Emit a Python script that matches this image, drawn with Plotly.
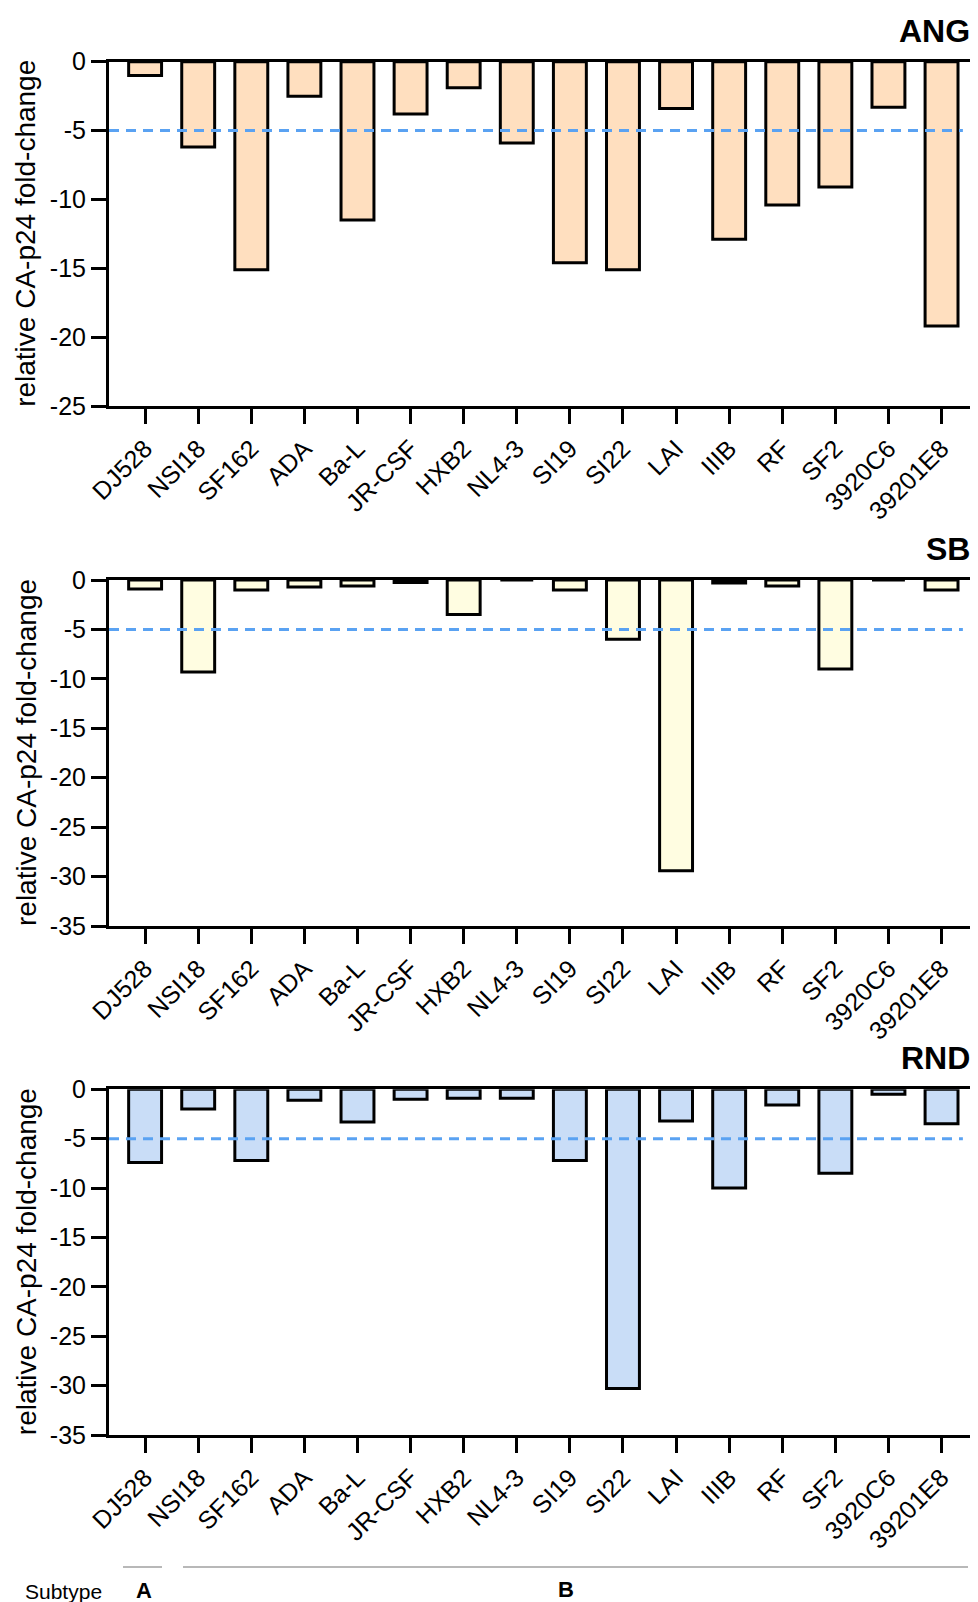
import plotly.graph_objects as go

categories = ["DJ528", "NSI18", "SF162", "ADA", "Ba-L", "JR-CSF", "HXB2", "NL4-3",
              "SI19", "SI22", "LAI", "IIIB", "RF", "SF2", "3920C6", "39201E8"]
ang = [-1.0, -6.2, -15.1, -2.5, -11.5, -3.8, -1.9, -5.9,
       -14.6, -15.1, -3.4, -12.9, -10.4, -9.1, -3.3, -19.2]
sb = [-0.9, -9.3, -1.0, -0.7, -0.6, -0.25, -3.5, 0.0,
      -1.0, -6.0, -29.4, -0.3, -0.6, -9.0, 0.0, -1.0]
rnd = [-7.4, -2.0, -7.2, -1.1, -3.3, -1.0, -0.9, -0.9,
       -7.2, -30.3, -3.2, -10.0, -1.6, -8.5, -0.5, -3.5]
panel_names = ["ANG", "SB", "RND"]
panel_colors = ["#FFDFBF", "#FFFDE1", "#C9DDF7"]
y_mins = [-25, -35, -35]
threshold = -5
y_title = "relative CA-p24 fold-change"
subtype_label = "Subtype"
subtypes = ["A", "B"]

W, H = 978, 1602
OFF = 8  # page body margin offset
FONT = "Liberation Sans, Arial, sans-serif"

def px(v):
    return v - OFF

# pixel geometry of panels (top, bottom) in window coordinates
panels_px = [(61.7, 406.0), (580.0, 926.0), (1089.3, 1435.0)]
x_left, x_right = px(109.0), px(975.0)

fig = go.Figure()
series = [ang, sb, rnd]
layout = {}
shapes = []
annotations = []
for i, (vals, name, col, ymin, (top, bot)) in enumerate(zip(series, panel_names, panel_colors, y_mins, panels_px)):
    top, bot = px(top), px(bot)
    n = "" if i == 0 else str(i + 1)
    fig.add_trace(go.Bar(
        x=categories, y=vals, width=0.62,
        marker=dict(color=col, line=dict(color="black", width=3)),
        xaxis="x" + n, yaxis="y" + n, showlegend=False,
    ))
    layout["xaxis" + n] = dict(
        domain=[x_left / W, x_right / W], anchor="y" + n,
        type="category", range=[-0.68, 15.63],
        showline=True, linecolor="black", linewidth=3, mirror=True,
        ticks="outside", ticklen=15, tickwidth=3, tickcolor="black",
        tickangle=-45, tickfont=dict(size=25, color="black", family=FONT),
        showgrid=False, zeroline=False, fixedrange=True, automargin=False,
    )
    layout["yaxis" + n] = dict(
        domain=[1 - bot / H, 1 - top / H], anchor="x" + n,
        range=[ymin, 0], tickmode="array",
        tickvals=list(range(0, ymin - 1, -5)),
        ticktext=[str(v) for v in range(0, ymin - 1, -5)],
        showline=True, linecolor="black", linewidth=3,
        ticks="outside", ticklen=15, tickwidth=3, tickcolor="black",
        tickfont=dict(size=25, color="black", family=FONT),
        showgrid=False, zeroline=False, fixedrange=True, automargin=False,
    )
    shapes.append(dict(
        type="line", xref="x" + n + " domain" if n else "x domain", yref="y" + n,
        x0=0, x1=0.986, y0=threshold, y1=threshold,
        line=dict(color="#5AA2F2", width=3, dash="10px,7px"), layer="above",
    ))
    annotations.append(dict(
        text=y_title, textangle=-90, xref="paper", yref="paper",
        x=px(26) / W, y=1 - (top + bot) / 2 / H, showarrow=False,
        xanchor="center", yanchor="middle",
        font=dict(size=28, color="black", family=FONT),
    ))
    annotations.append(dict(
        text="<b>" + name + "</b>", xref="paper", yref="paper",
        x=px(972) / W, y=1 - (top - 31) / H, showarrow=False,
        xanchor="right", yanchor="middle",
        font=dict(size=32, color="black", family=FONT),
    ))

# subtype annotation row
yl = 1 - px(1567) / H
shapes.append(dict(type="line", xref="paper", yref="paper",
                   x0=px(123) / W, x1=px(162) / W, y0=yl, y1=yl,
                   line=dict(color="#A0A0A0", width=1.5)))
shapes.append(dict(type="line", xref="paper", yref="paper",
                   x0=px(183) / W, x1=px(968) / W, y0=yl, y1=yl,
                   line=dict(color="#A0A0A0", width=1.5)))
annotations.append(dict(text=subtype_label, xref="paper", yref="paper",
                        x=px(23) / W, y=1 - px(1591) / H, showarrow=False,
                        xanchor="left", yanchor="middle",
                        font=dict(size=21, color="black", family=FONT)))
annotations.append(dict(text="<b>" + subtypes[0] + "</b>", xref="paper", yref="paper",
                        x=px(143.5) / W, y=1 - px(1590) / H, showarrow=False,
                        xanchor="center", yanchor="middle",
                        font=dict(size=22, color="black", family=FONT)))
annotations.append(dict(text="<b>" + subtypes[1] + "</b>", xref="paper", yref="paper",
                        x=px(566) / W, y=1 - px(1589) / H, showarrow=False,
                        xanchor="center", yanchor="middle",
                        font=dict(size=22, color="black", family=FONT)))

fig.update_layout(
    width=W, height=H, margin=dict(l=0, r=0, t=0, b=0, pad=0, autoexpand=False),
    paper_bgcolor="white", plot_bgcolor="white",
    font=dict(family=FONT, color="black"),
    shapes=shapes, annotations=annotations, bargap=0.38, showlegend=False,
    **layout,
)
fig.write_html("out.html")
